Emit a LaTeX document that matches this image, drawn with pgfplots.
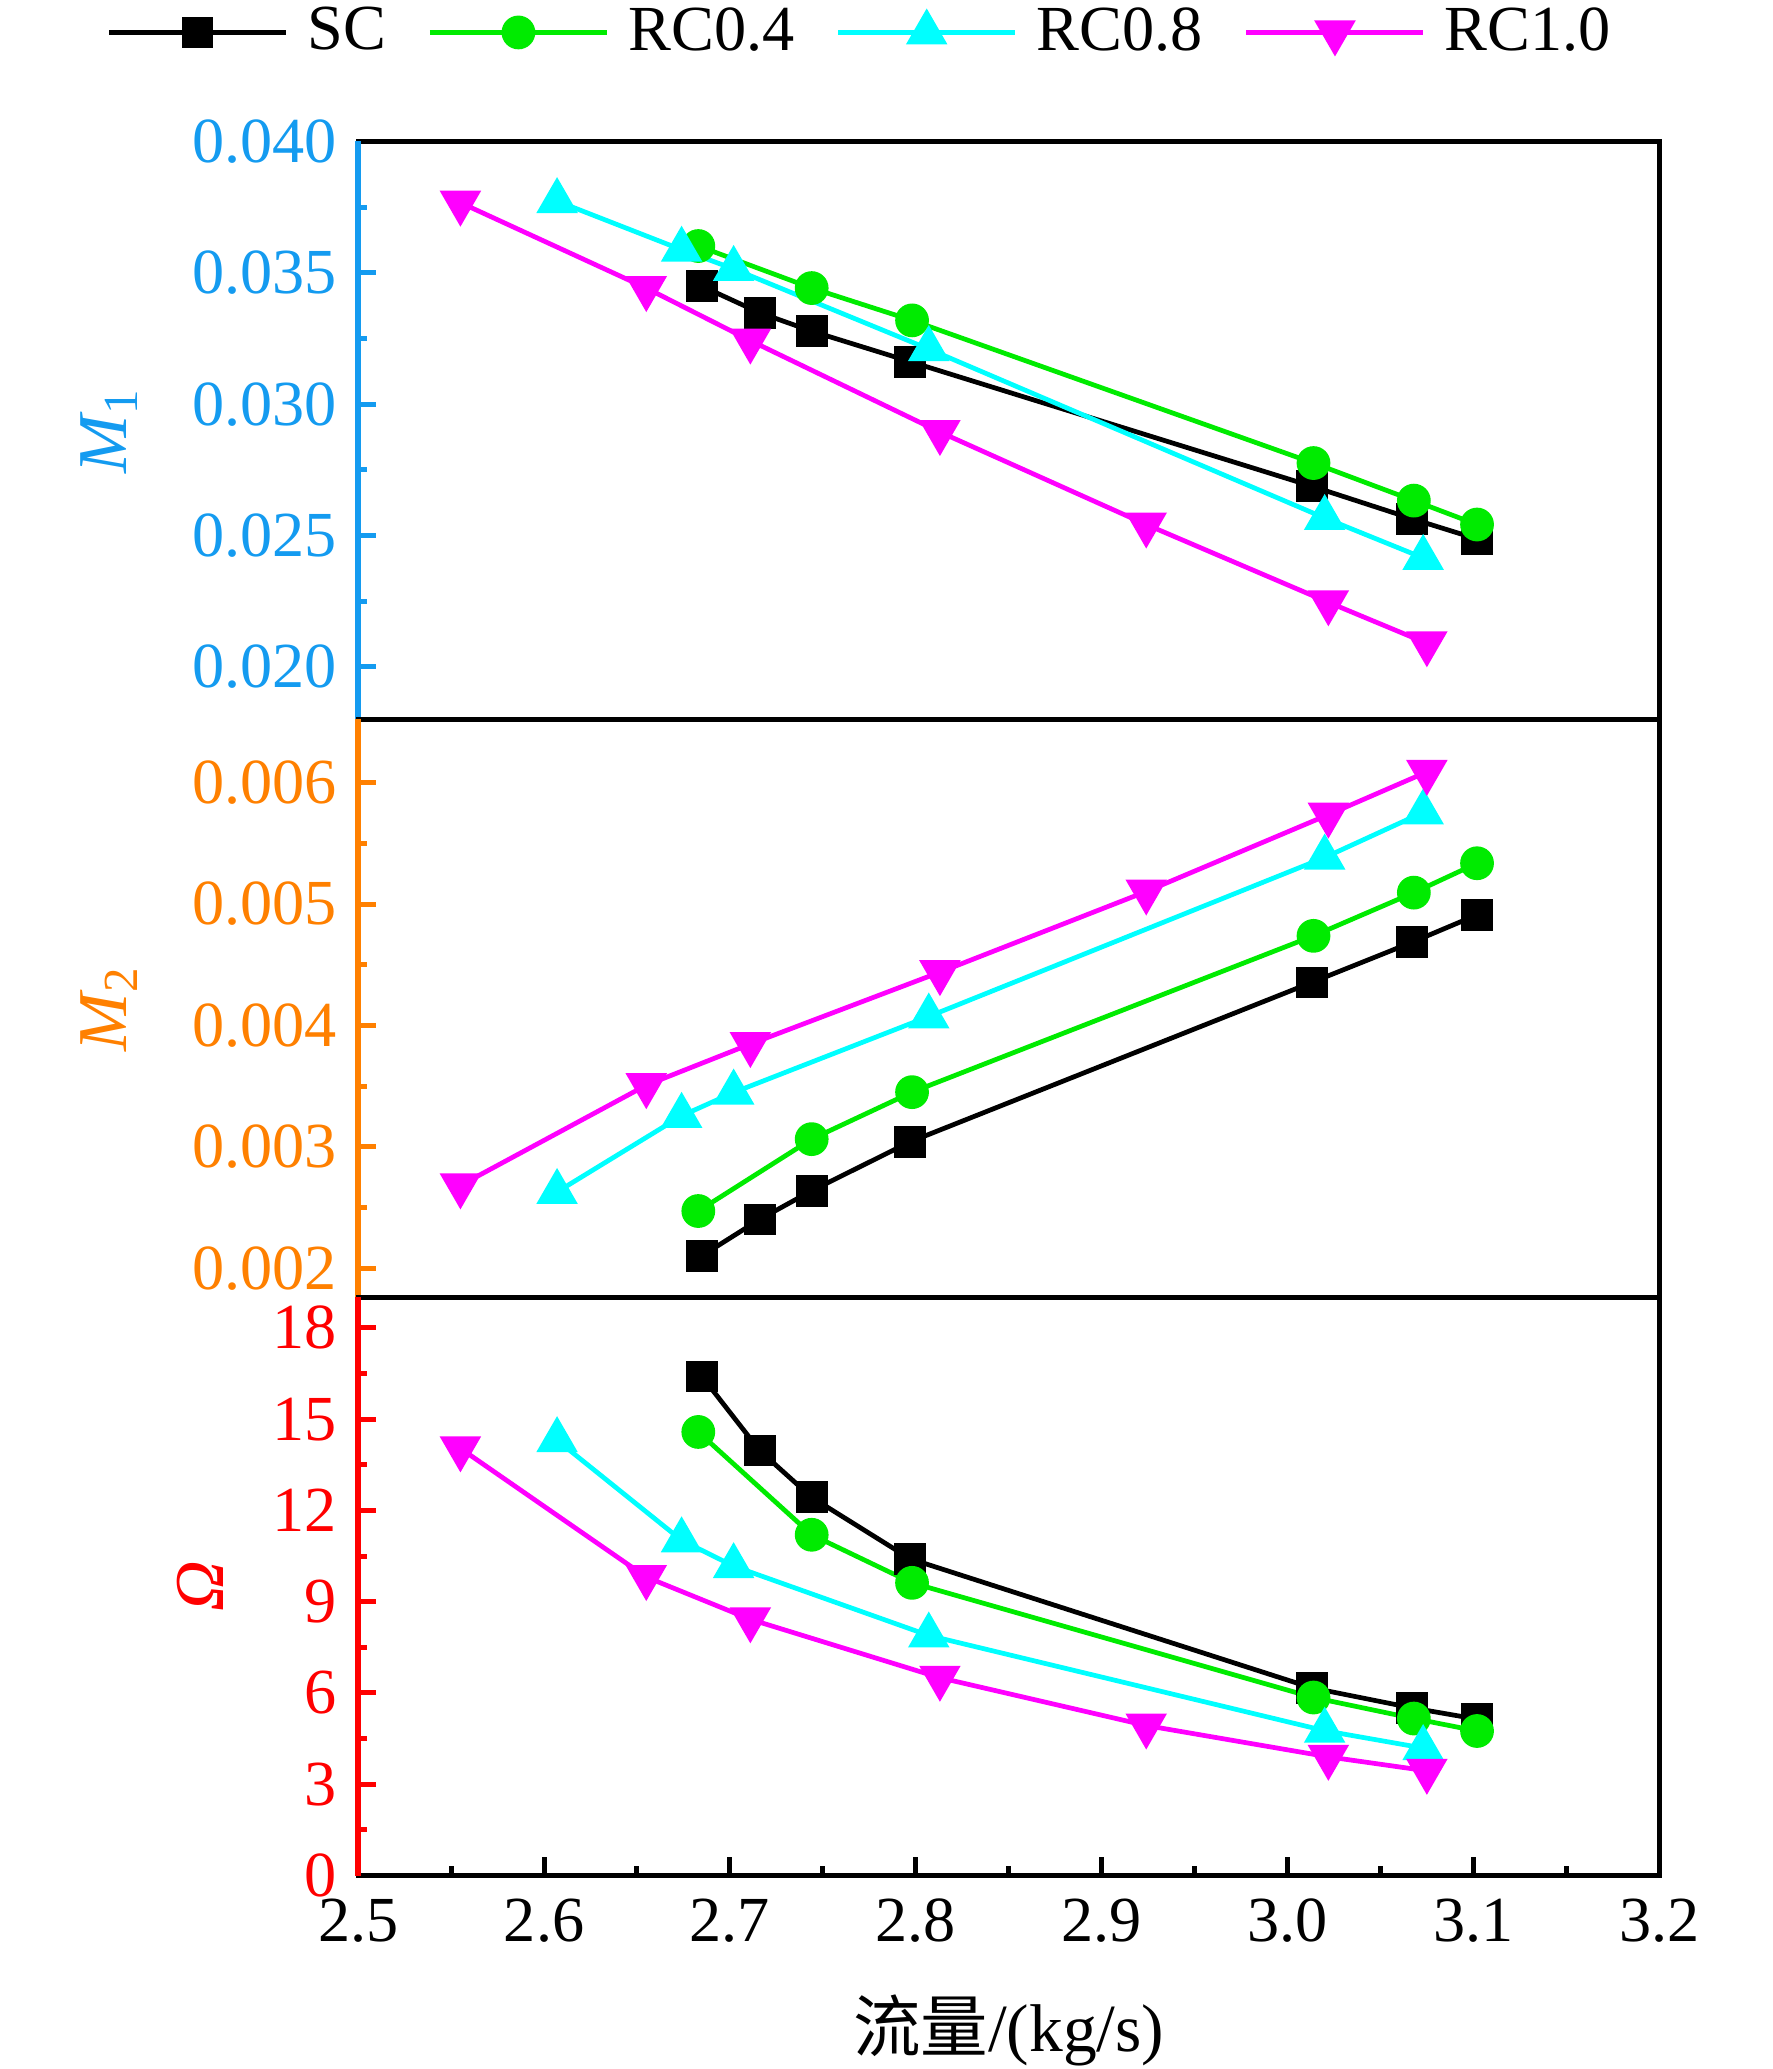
\documentclass[border=0pt]{standalone}
\usepackage{fontspec}
\setmainfont{Liberation Serif}
\newfontfamily\cjk{Noto Sans CJK SC}
\usepackage{pgfplots}
\usepackage{pgfplotstable}
\pgfplotsset{compat=1.18}
\definecolor{cblue}{RGB}{20,155,240}
\definecolor{corange}{RGB}{255,128,0}
\definecolor{cred}{RGB}{255,0,0}
\definecolor{cgreen}{RGB}{0,235,0}
\definecolor{ccyan}{RGB}{0,255,255}
\definecolor{cmag}{RGB}{255,0,255}

\pgfplotstableread{
x m1 m2 om
2.685 0.03449 0.002104 16.40
2.716 0.03348 0.002403 13.97
2.744 0.03278 0.002639 12.43
2.797 0.03162 0.003042 10.41
3.013 0.02688 0.004354 6.17
3.067 0.02564 0.004685 5.51
3.102 0.02487 0.004911 5.14
}\tabSC
\pgfplotstableread{
x m1 m2 om
2.683 0.03602 0.002472 14.58
2.744 0.03442 0.003064 11.20
2.798 0.03319 0.003451 9.62
3.014 0.02776 0.004738 5.85
3.068 0.02633 0.005094 5.16
3.102 0.02542 0.005336 4.75
}\tabRCa
\pgfplotstableread{
x m1 m2 om
2.607 0.03773 0.002629 14.31
2.674 0.03588 0.003256 11.02
2.702 0.03515 0.003448 10.17
2.807 0.03210 0.004074 7.89
3.020 0.02567 0.005383 4.76
3.073 0.02415 0.005755 4.19
}\tabRCb
\pgfplotstableread{
x m1 m2 om
2.555 0.03767 0.002683 14.04
2.655 0.03442 0.003508 9.81
2.711 0.03242 0.003847 8.42
2.813 0.02894 0.004439 6.50
2.924 0.02542 0.005103 4.93
3.022 0.02246 0.005736 3.90
3.075 0.02090 0.006088 3.44
}\tabRCc

\pgfplotsset{
  sSC/.style={black, line width=0.95pt, mark=square*, mark size=2.7pt, mark options={solid}},
  sRCa/.style={cgreen, line width=0.95pt, mark=*, mark size=2.9pt, mark options={solid}},
  sRCb/.style={ccyan, line width=0.95pt, mark=triangle*, mark size=3.85pt, mark options={solid}},
  sRCc/.style={cmag, line width=0.95pt, mark=triangle*, mark size=3.85pt, mark options={solid, rotate=180}},
  panel/.style={
    scale only axis, width=260.2pt, height=115.6pt,
    xmin=2.5, xmax=3.2,
    anchor=south west,
    axis line style={line width=1.0pt, black},
    tick align=inside,
    ytick pos=left, xtick pos=bottom,
    major tick length=3.6pt, minor tick length=1.8pt,
    scaled y ticks=false, scaled x ticks=false,
    minor y tick num=1,
    /pgf/number format/assume math mode=true,
    tick label style={font=\fontsize{12.85}{15}\selectfont},
    label style={font=\fontsize{14}{16}\selectfont},
    yticklabel style={xshift=-0.7pt},
  },
}

\begin{document}
\begin{tikzpicture}
\useasboundingbox (-71.64pt,-38.7pt) rectangle (282.76pt,375.1pt);

% ---------------- top panel: M1 ----------------
\begin{axis}[panel,
  at={(0pt,231.2pt)},
  ymin=0.018, ymax=0.040,
  ytick={0.020,0.025,0.030,0.035,0.040},
  xtick=\empty,
  ytick style={cblue, line width=1.0pt},
  yticklabel style={color=cblue, /pgf/number format/.cd, fixed, fixed zerofill, precision=3},
  ylabel={{\itshape M}\textsubscript{1}},
  ylabel style={color=cblue, at={(axis description cs:-0.1914,0.5)}, anchor=center},
  after end axis/.code={\draw[cblue, line width=1.1pt] (rel axis cs:0,0) -- (rel axis cs:0,1);},
  legend columns=4,
  legend style={at={(axis description cs:-0.1933,1.1886)}, anchor=west, draw=none, fill=none,
    inner sep=0pt, outer sep=0pt, font=\fontsize{12.85}{15}\selectfont,
    nodes={inner xsep=0pt, inner ysep=1pt},
    /tikz/every odd column/.append style={column sep=3.8pt},
    /tikz/every even column/.append style={column sep=8.3pt}},
  legend image code/.code={\draw[mark repeat=2,mark phase=2] plot coordinates {(0pt,0pt) (17.7pt,0pt) (35.4pt,0pt)};},
]
\addplot[sSC] table[x=x, y=m1] {\tabSC};
\addlegendentry{SC}
\addplot[sRCa] table[x=x, y=m1] {\tabRCa};
\addlegendentry{RC0.4}
\addplot[sRCb] table[x=x, y=m1] {\tabRCb};
\addlegendentry{RC0.8}
\addplot[sRCc] table[x=x, y=m1] {\tabRCc};
\addlegendentry{RC1.0}
\end{axis}

% ---------------- middle panel: M2 ----------------
\begin{axis}[panel,
  at={(0pt,115.6pt)},
  ymin=0.00176, ymax=0.00652,
  ytick={0.002,0.003,0.004,0.005,0.006},
  xtick=\empty,
  ytick style={corange, line width=1.0pt},
  yticklabel style={color=corange, /pgf/number format/.cd, fixed, fixed zerofill, precision=3},
  ylabel={{\itshape M}\textsubscript{2}},
  ylabel style={color=corange, at={(axis description cs:-0.1914,0.5)}, anchor=center},
  after end axis/.code={\draw[corange, line width=1.1pt] (rel axis cs:0,0) -- (rel axis cs:0,1);},
]
\addplot[sSC] table[x=x, y=m2] {\tabSC};
\addplot[sRCa] table[x=x, y=m2] {\tabRCa};
\addplot[sRCb] table[x=x, y=m2] {\tabRCb};
\addplot[sRCc] table[x=x, y=m2] {\tabRCc};
\end{axis}

% ---------------- bottom panel: Omega ----------------
\begin{axis}[panel,
  at={(0pt,0pt)},
  ymin=0, ymax=19,
  ytick={0,3,6,9,12,15,18},
  xtick={2.5,2.6,2.7,2.8,2.9,3.0,3.1,3.2},
  minor x tick num=1,
  ytick style={cred, line width=1.0pt},
  xtick style={black, line width=1.0pt},
  yticklabel style={color=cred},
  xticklabel style={yshift=-1.2pt, /pgf/number format/.cd, fixed, fixed zerofill, precision=1},
  ylabel={{\itshape Ω}},
  ylabel style={color=cred, at={(axis description cs:-0.1214,0.5)}, anchor=center},
  xlabel={{\cjk 流量}/(kg/s)},
  xlabel style={at={(axis description cs:0.5,0)}, anchor=center, yshift=-30.9pt, font=\fontsize{13.5}{16}\selectfont},
  after end axis/.code={\draw[cred, line width=1.1pt] (rel axis cs:0,0) -- (rel axis cs:0,1);},
]
\addplot[sSC] table[x=x, y=om] {\tabSC};
\addplot[sRCa] table[x=x, y=om] {\tabRCa};
\addplot[sRCb] table[x=x, y=om] {\tabRCb};
\addplot[sRCc] table[x=x, y=om] {\tabRCc};
\end{axis}
\end{tikzpicture}
\end{document}
